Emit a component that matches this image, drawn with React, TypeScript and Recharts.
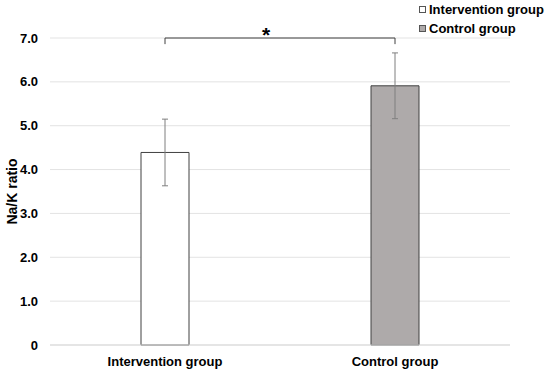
import React from "react";
import {
  BarChart,
  Bar,
  Cell,
  ErrorBar,
  XAxis,
  YAxis,
  CartesianGrid,
  ReferenceLine,
} from "recharts";

const categories = ["Intervention group", "Control group"];
const meanRatio = [4.39, 5.91];
const sdRatio = [0.76, 0.75];
const barFills = ["#ffffff", "#aeaaaa"];
const yTicks = [0, 1, 2, 3, 4, 5, 6, 7];
const bracketTop = 7;
const bracketFoot = 6.86;
const sigMark = "*";

const FONT = "'Liberation Sans', Arial, sans-serif";

const data = categories.map((name, i) => ({
  name,
  mean: meanRatio[i],
  sd: sdRatio[i],
}));

function Legend() {
  return (
    <div style={{ position: "absolute", left: 419, top: 0, fontFamily: FONT }}>
      {categories.map((c, i) => (
        <div
          key={c}
          style={{
            position: "absolute",
            left: 0,
            top: 0.5 + i * 19,
            height: 17,
            lineHeight: "17px",
            whiteSpace: "nowrap",
            fontSize: 13,
            fontWeight: "bold",
            color: "#000",
          }}
        >
          <span
            style={{
              display: "inline-block",
              width: 5,
              height: 5,
              border: "1px solid #555",
              background: barFills[i],
              marginRight: 3,
              verticalAlign: "1px",
            }}
          />
          {c}
        </div>
      ))}
    </div>
  );
}

export default function App() {
  return (
    <div
      style={{
        position: "absolute",
        left: 0,
        top: 0,
        width: 550,
        height: 373,
        background: "#fff",
      }}
    >
      <BarChart
        width={550}
        height={373}
        data={data}
        margin={{ top: 38, right: 40, left: 0, bottom: 0 }}
        barSize={48}
      >
        <CartesianGrid vertical={false} stroke="#e3e3e3" strokeWidth={1} />
        <XAxis
          dataKey="name"
          height={28}
          axisLine={{ stroke: "#d9d9d9" }}
          tickLine={false}
          tickMargin={6}
          tick={{ fontSize: 13, fontWeight: "bold", fill: "#000", fontFamily: FONT }}
        />
        <YAxis
          width={50}
          domain={[0, 7]}
          ticks={yTicks}
          interval={0}
          axisLine={false}
          tickLine={false}
          tickMargin={6}
          tickFormatter={(v: number) => (v === 0 ? "0" : v.toFixed(1))}
          tick={{ fontSize: 13, fontWeight: "bold", fill: "#000", fontFamily: FONT }}
          label={{
            content: (p: any) => {
              const vb = p.viewBox;
              const cy = vb.y + vb.height / 2;
              return (
                <text
                  x={12}
                  y={cy}
                  transform={`rotate(-90, 12, ${cy})`}
                  textAnchor="middle"
                  dominantBaseline="central"
                  fontSize={14}
                  fontWeight="bold"
                  fontFamily={FONT}
                  fill="#000"
                >
                  Na/K ratio
                </text>
              );
            },
          }}
        />
        <Bar dataKey="mean" stroke="#404040" strokeWidth={1} isAnimationActive={false}>
          {data.map((d, i) => (
            <Cell key={d.name} fill={barFills[i]} />
          ))}
          <ErrorBar
            dataKey="sd"
            width={3}
            stroke="#7f7f7f"
            strokeWidth={1}
            direction="y"
            isAnimationActive={false}
          />
        </Bar>
        <ReferenceLine
          segment={[
            { x: categories[0], y: bracketTop },
            { x: categories[1], y: bracketTop },
          ]}
          stroke="#404040"
          strokeWidth={1}
          label={{
            content: (p: any) => {
              const vb = p.viewBox;
              const x = vb.x + vb.width * 0.44;
              return (
                <text
                  x={x}
                  y={42}
                  textAnchor="middle"
                  fontSize={21}
                  fontWeight="bold"
                  fontFamily={FONT}
                  fill="#000"
                >
                  {sigMark}
                </text>
              );
            },
          }}
        />
        <ReferenceLine
          segment={[
            { x: categories[0], y: bracketTop },
            { x: categories[0], y: bracketFoot },
          ]}
          stroke="#404040"
          strokeWidth={1}
        />
        <ReferenceLine
          segment={[
            { x: categories[1], y: bracketTop },
            { x: categories[1], y: bracketFoot },
          ]}
          stroke="#404040"
          strokeWidth={1}
        />
      </BarChart>
      <Legend />
    </div>
  );
}
